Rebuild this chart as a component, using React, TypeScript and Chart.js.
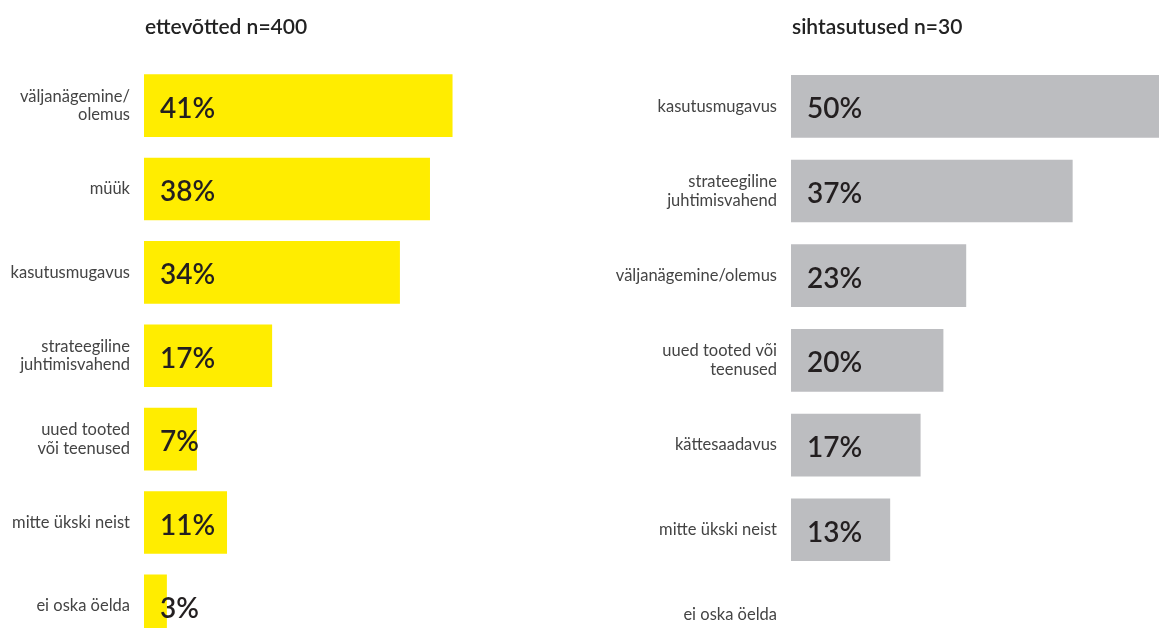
import React, { useEffect, useRef } from "react";
import { Chart, registerables } from "chart.js";

Chart.register(...registerables);

const leftTitle = "ettevõtted n=400";
const leftCategories: (string | string[])[] = [
  ["väljanägemine/", "olemus"],
  "müük",
  "kasutusmugavus",
  ["strateegiline", "juhtimisvahend"],
  ["uued tooted", "või teenused"],
  "mitte ükski neist",
  "ei oska öelda",
];
const leftValues = [41, 38, 34, 17, 7, 11, 3];

const rightTitle = "sihtasutused n=30";
const rightCategories: (string | string[])[] = [
  "kasutusmugavus",
  ["strateegiline", "juhtimisvahend"],
  "väljanägemine/olemus",
  ["uued tooted või", "teenused"],
  "kättesaadavus",
  "mitte ükski neist",
  "ei oska öelda",
];
const rightValues = [50, 37, 23, 20, 17, 13, 0];

const LABEL_FONT = "Lato, 'Open Sans', sans-serif";

function makePlugins(title: string) {
  return [
    {
      id: "titleAndValues",
      afterDatasetsDraw(chart: any) {
        const ctx = chart.ctx;
        const xs = chart.scales.x;
        const meta = chart.getDatasetMeta(0);
        const data = chart.data.datasets[0].data as number[];
        ctx.save();
        ctx.fillStyle = "#231f20";
        ctx.font = `600 28px ${LABEL_FONT}`;
        ctx.textAlign = "left";
        ctx.textBaseline = "middle";
        meta.data.forEach((bar: any, i: number) => {
          const v = data[i];
          if (!v) return;
          ctx.fillText(`${v}%`, xs.getPixelForValue(0) + 16, bar.y + 3);
        });
        ctx.font = `600 21px ${LABEL_FONT}`;
        ctx.fillStyle = "#222";
        ctx.fillText(title, chart.chartArea.left + 1, 27);
        ctx.restore();
      },
    },
  ];
}

function BarPanel(props: {
  title: string;
  categories: (string | string[])[];
  values: number[];
  color: string;
  width: number;
  height: number;
  axisWidth: number;
  xMax: number;
  bottomPad: number;
}) {
  const ref = useRef<HTMLCanvasElement>(null);
  useEffect(() => {
    if (!ref.current) return;
    const chart = new Chart(ref.current, {
      type: "bar",
      data: {
        labels: props.categories,
        datasets: [
          {
            data: props.values,
            backgroundColor: props.values.map((v) => (v > 0 ? props.color : "rgba(0,0,0,0)")),
            borderWidth: 0,
            barThickness: 62,
          },
        ],
      },
      options: {
        indexAxis: "y",
        responsive: false,
        animation: false,
        layout: { padding: { top: 64, bottom: props.bottomPad, left: 0, right: 0 } },
        plugins: {
          legend: { display: false },
          tooltip: { enabled: false },
          title: { display: false },
        },
        scales: {
          x: {
            display: false,
            min: 0,
            max: props.xMax,
            grid: { display: false },
          },
          y: {
            grid: { display: false, drawTicks: false },
            border: { display: false },
            ticks: {
              color: "#444",
              padding: 14,
              font: { family: LABEL_FONT, size: 16.5, lineHeight: 1.12 },
            },
            afterFit(scale: any) {
              scale.width = props.axisWidth;
            },
          },
        },
      } as any,
      plugins: makePlugins(props.title) as any,
    });
    return () => chart.destroy();
  }, []);
  return (
    <canvas
      ref={ref}
      width={props.width}
      height={props.height}
      style={{ display: "block", width: props.width, height: props.height }}
    />
  );
}

export default function App() {
  return (
    <div
      style={{
        position: "fixed",
        top: 0,
        left: 0,
        width: 1159,
        height: 628,
        overflow: "hidden",
        background: "#fff",
        display: "flex",
        alignItems: "flex-start",
      }}
    >
      <BarPanel
        title={leftTitle}
        categories={leftCategories}
        values={leftValues}
        color="#ffed00"
        width={580}
        height={680}
        axisWidth={144}
        xMax={58}
        bottomPad={12}
      />
      <BarPanel
        title={rightTitle}
        categories={rightCategories}
        values={rightValues}
        color="#bcbdc0"
        width={579}
        height={680}
        axisWidth={211}
        xMax={48.4}
        bottomPad={7}
      />
    </div>
  );
}
